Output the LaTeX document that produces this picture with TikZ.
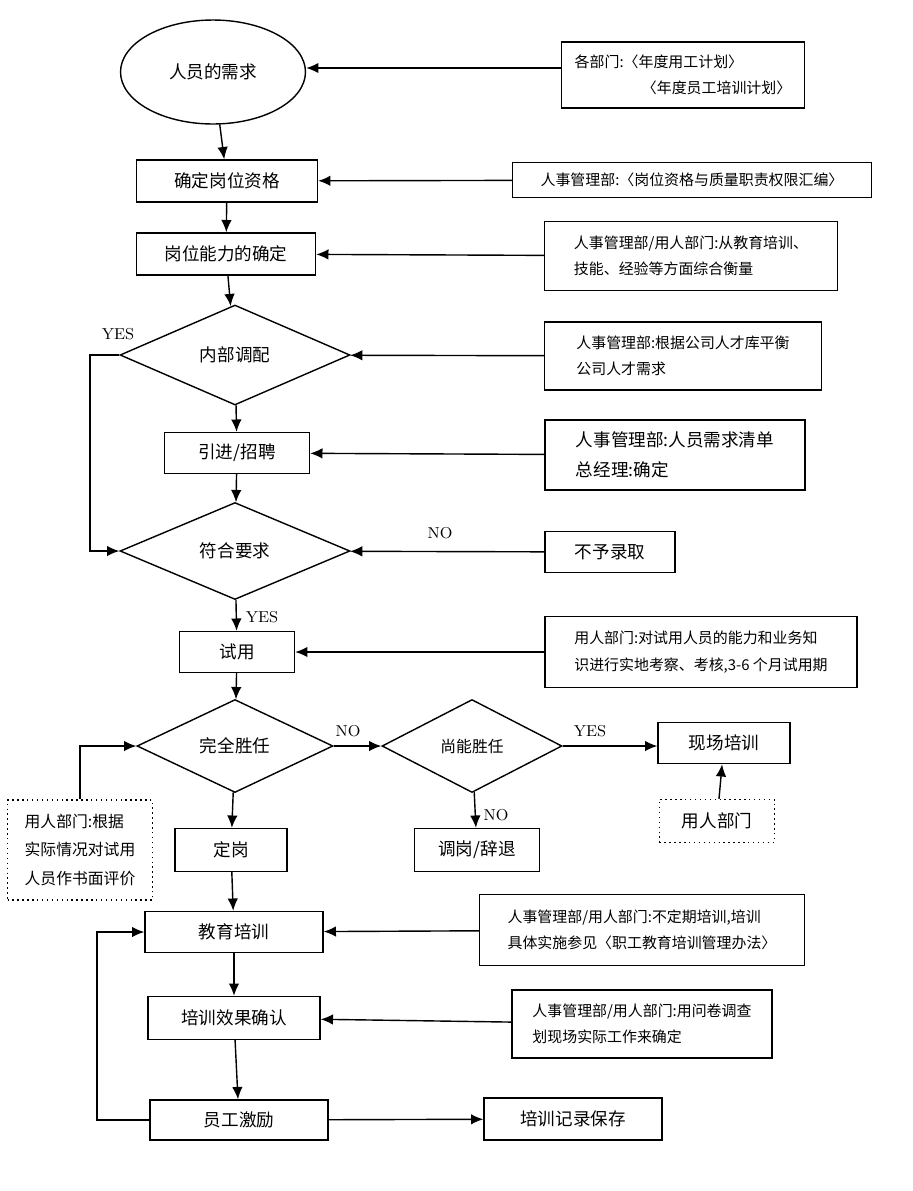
\documentclass[tikz,border=0pt]{standalone}
\usepackage{fontspec}
\newfontfamily\cjk{Noto Sans CJK SC}
\usetikzlibrary{shapes.geometric,arrows.meta}
\tikzset{
  box/.style={draw, thick, inner sep=2pt, font=\cjk\fontsize{10}{12}\selectfont},
  note/.style={draw, thick, align=left, inner sep=4pt, font=\cjk\fontsize{8.5}{15}\selectfont},
  dia/.style={draw, thick, diamond, aspect=2.3, inner sep=0pt, font=\cjk\fontsize{10}{12}\selectfont},
  lab/.style={font=\fontsize{9}{10}\selectfont},
  arr/.style={thick, -{Latex[length=7pt,width=6pt]}}
}
\begin{document}
\begin{tikzpicture}[x=0.02cm,y=-0.02cm]
\useasboundingbox (0,0) rectangle (913,1191);
% main column
\node[draw, thick, ellipse, minimum width=3.7cm, minimum height=2.08cm, font=\cjk\fontsize{10}{12}\selectfont] (need) at (213,72) {人员的需求};
\node[box, minimum width=3.62cm, minimum height=0.84cm] (qual) at (227,181) {确定岗位资格};
\node[box, minimum width=3.58cm, minimum height=0.84cm] (abil) at (226,254) {岗位能力的确定};
\node[dia, minimum width=4.6cm, minimum height=2cm] (inner) at (235,355) {内部调配};
\node[box, minimum width=2.9cm, minimum height=0.82cm] (hire) at (237,453) {引进/招聘};
\node[dia, minimum width=4.6cm, minimum height=1.94cm] (fit) at (235,551) {符合要求};
\node[box, minimum width=2.3cm, minimum height=0.82cm] (trial) at (237,652) {试用};
\node[dia, minimum width=3.92cm, minimum height=1.86cm] (full) at (235,746) {完全胜任};
\node[dia, minimum width=3.6cm, minimum height=1.86cm, font=\cjk\fontsize{9}{11}\selectfont] (part) at (472,746) {尚能胜任};
\node[box, minimum width=2.64cm, minimum height=0.82cm] (site) at (724,743) {现场培训};
\node[box, minimum width=2.24cm, minimum height=0.86cm] (fix) at (231,850) {定岗};
\node[box, minimum width=2.5cm, minimum height=0.86cm] (move) at (477,850) {调岗/辞退};
\node[box, minimum width=3.56cm, minimum height=0.82cm] (edu) at (234,932) {教育培训};
\node[box, minimum width=3.44cm, minimum height=0.86cm] (eff) at (234,1018) {培训效果确认};
\node[box, minimum width=3.56cm, minimum height=0.8cm] (mot) at (239,1120) {员工激励};
\node[box, minimum width=3.56cm, minimum height=0.84cm] (rec) at (573,1119) {培训记录保存};
% side notes
\node[note, minimum width=4.86cm, minimum height=1.32cm] (n1) at (683,75) {各部门:〈年度用工计划〉\\\hspace*{4.5em}〈年度员工培训计划〉};
\node[note, minimum width=7.18cm, minimum height=0.7cm] (n2) at (692,180) {人事管理部:〈岗位资格与质量职责权限汇编〉};
\node[note, minimum width=5.86cm, minimum height=1.38cm] (n3) at (691,256) {人事管理部/用人部门:从教育培训、\\技能、经验等方面综合衡量};
\node[note, minimum width=5.54cm, minimum height=1.36cm] (n4) at (683,356) {人事管理部:根据公司人才库平衡\\公司人才需求};
\node[note, minimum width=5.2cm, minimum height=1.4cm, font=\cjk\fontsize{10}{17}\selectfont] (n5) at (675,455) {人事管理部:人员需求清单\\总经理:确定};
\node[box, minimum width=2.6cm, minimum height=0.82cm] (rej) at (610,552) {不予录取};
\node[note, minimum width=6.24cm, minimum height=1.42cm] (n6) at (701,652) {用人部门:对试用人员的能力和业务知\\识进行实地考察、考核,3-6 个月试用期};
\node[note, dotted, minimum width=2.3cm, minimum height=0.86cm, font=\cjk\fontsize{10}{12}\selectfont] (dept) at (717,821) {用人部门};
\node[note, dotted, minimum width=2.9cm, minimum height=2cm, font=\cjk\fontsize{9}{16}\selectfont] (eval) at (80,850) {用人部门:根据\\实际情况对试用\\人员作书面评价};
\node[note, minimum width=6.5cm, minimum height=1.42cm] (n7) at (642,930) {人事管理部/用人部门:不定期培训,培训\\具体实施参见〈职工教育培训管理办法〉};
\node[note, minimum width=5.2cm, minimum height=1.36cm] (n8) at (642,1024) {人事管理部/用人部门:用问卷调查\\划现场实际工作来确定};
% flow
\draw[arr] (need) -- (qual);
\draw[arr] (qual) -- (abil);
\draw[arr] (abil) -- (inner);
\draw[arr] (inner) -- (hire);
\draw[arr] (hire) -- (fit);
\draw[arr] (fit) -- (trial);
\draw[arr] (trial) -- (full);
\draw[arr] (full) -- (fix);
\draw[arr] (part) -- (move);
\draw[arr] (fix) -- (edu);
\draw[arr] (edu) -- (eff);
\draw[arr] (eff) -- (mot);
\draw[arr] (mot) -- (rec);
\draw[arr] (full.east) -- (part.west);
\draw[arr] (part.east) -- (site.west |- part.east);
\draw[arr] (dept) -- (site);
\draw[arr] (inner.west) -- (90,355) -- (90,551) -- (fit.west);
\draw[arr] (eval.north) -- (eval.north |- full.west) -- (full.west);
\draw[arr] (mot.west) -- (97,1120) -- (97,932) -- (edu.west);
% notes into column
\draw[arr] (n1.west |- 0,68) -- (need.east |- 0,68);
\draw[arr] (n2) -- (qual);
\draw[arr] (n3) -- (abil);
\draw[arr] (n4) -- (inner);
\draw[arr] (n5) -- (hire);
\draw[arr] (rej) -- (fit);
\draw[arr] (n6) -- (trial);
\draw[arr] (n7) -- (edu);
\draw[arr] (n8) -- (eff);
% labels
\node[lab] (y1) at (118,334) {YES};
\node[lab] (no1) at (440,533) {NO};
\node[lab] (y2) at (262,617) {YES};
\node[lab] (no2) at (348,731) {NO};
\node[lab] (y3) at (590,731) {YES};
\node[lab] (no3) at (496,815) {NO};
\end{tikzpicture}
\end{document}
